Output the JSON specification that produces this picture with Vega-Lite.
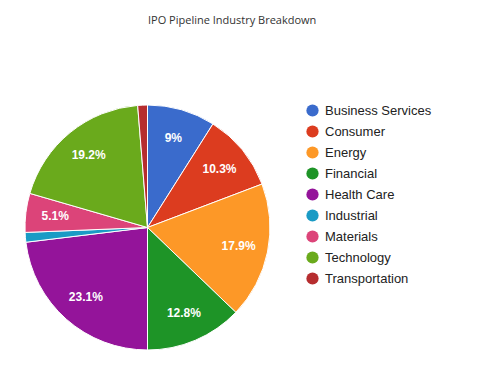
{
  "$schema": "https://vega.github.io/schema/vega-lite/v6.json",
  "autosize": "none",
  "width": 295,
  "height": 245,
  "padding": {"left": 0, "top": 105, "right": 185, "bottom": 24},
  "background": "white",
  "title": {
    "text": "IPO Pipeline Industry Breakdown",
    "anchor": "start",
    "frame": "group",
    "dx": 148,
    "offset": 68,
    "baseline": "alphabetic",
    "font": "Open Sans",
    "fontSize": 11,
    "fontWeight": "normal",
    "color": "#333333"
  },
  "data": {
    "values": [
      {"industry": "Business Services", "pct": 0.0897},
      {"industry": "Consumer", "pct": 0.1026},
      {"industry": "Energy", "pct": 0.1795},
      {"industry": "Financial", "pct": 0.1282},
      {"industry": "Health Care", "pct": 0.2308},
      {"industry": "Industrial", "pct": 0.0128},
      {"industry": "Materials", "pct": 0.0513},
      {"industry": "Technology", "pct": 0.1923},
      {"industry": "Transportation", "pct": 0.0128}
    ]
  },
  "encoding": {
    "theta": {"field": "pct", "type": "quantitative", "stack": true},
    "order": {"field": "industry", "type": "nominal", "sort": "ascending"},
    "color": {
      "field": "industry",
      "type": "nominal",
      "scale": {
        "domain": ["Business Services", "Consumer", "Energy", "Financial", "Health Care", "Industrial", "Materials", "Technology", "Transportation"],
        "range": ["#3a6bcc", "#dc3c1f", "#fd9827", "#1e9427", "#94149a", "#1a9bc5", "#dc4479", "#6aaa1c", "#b62d2f"]
      },
      "legend": {
        "title": null,
        "orient": "none",
        "legendX": 306,
        "legendY": -1,
        "padding": 0,
        "symbolType": "circle",
        "symbolSize": 150,
        "symbolStrokeWidth": 0,
        "labelFont": "Liberation Sans",
        "labelFontSize": 13,
        "labelColor": "#222222",
        "labelOffset": 6,
        "rowPadding": 7,
        "clipHeight": 13,
        "labelLimit": 200
      }
    }
  },
  "layer": [
    {
      "mark": {"type": "arc", "outerRadius": 122.5, "stroke": "white", "strokeWidth": 1}
    },
    {
      "mark": {"type": "text", "radius": 93, "font": "Liberation Sans", "fontSize": 12, "fontWeight": "bold", "color": "white", "baseline": "middle", "align": "center"},
      "encoding": {
        "text": {"field": "pct", "type": "quantitative", "format": ".1~%"},
        "opacity": {"condition": {"test": "datum.pct < 0.04", "value": 0}, "value": 1},
        "color": {"value": "white"}
      }
    }
  ],
  "config": {"view": {"stroke": null}}
}
